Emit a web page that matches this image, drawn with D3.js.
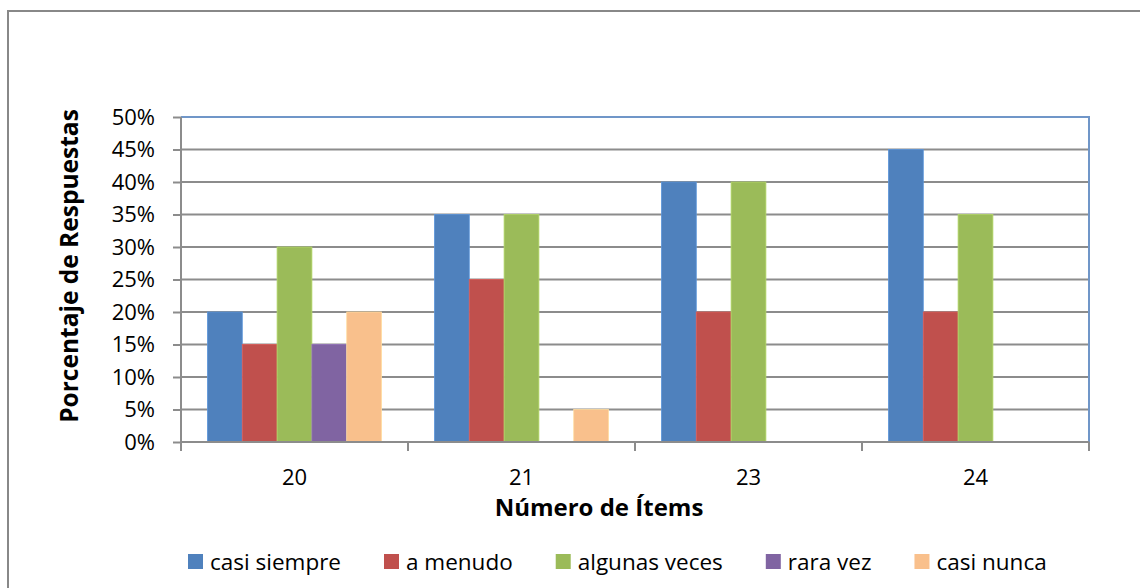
<!DOCTYPE html>
<html>
<head>
<meta charset="utf-8">
<script src="https://cdn.jsdelivr.net/npm/d3@7"></script>
<style>
  html, body { margin: 0; padding: 0; background: #fff; }
  svg { display: block; }
  text { font-family: "Open Sans", "Noto Sans", sans-serif; fill: #000; }
</style>
</head>
<body>
<svg id="chart" width="1140" height="588"></svg>
<script>
// Items (categories) on the x axis
const items = ["20", "21", "23", "24"];
// Answer options (series)
const series = ["casi siempre", "a menudo", "algunas veces", "rara vez", "casi nunca"];
// Percentage of responses per item, one array per answer option
const casiSiempre  = [20, 35, 40, 45];
const aMenudo      = [15, 25, 20, 20];
const algunasVeces = [30, 35, 40, 35];
const raraVez      = [15, 0, 0, 0];
const casiNunca    = [20, 5, 0, 0];
const yTicks = [0, 5, 10, 15, 20, 25, 30, 35, 40, 45, 50];
const colors = ["#4F81BD", "#C0504D", "#9BBB59", "#8064A2", "#F9C08C"];

const values = [casiSiempre, aMenudo, algunasVeces, raraVez, casiNunca];

const svg = d3.select("#chart");
const plot = { left: 181, right: 1089, top: 117, bottom: 442 };

// Outer chart frame
svg.append("rect")
  .attr("x", 8).attr("y", 11)
  .attr("width", 1160).attr("height", 600)
  .attr("fill", "none").attr("stroke", "#888").attr("stroke-width", 2);

const x0 = d3.scaleBand().domain(items).range([plot.left, plot.right]).padding(0);
const x1 = d3.scaleBand().domain(series).range([0, x0.bandwidth()])
  .paddingInner(0).paddingOuter(0.76);
const y = d3.scaleLinear().domain([0, 50]).range([plot.bottom, plot.top]);

// Horizontal gridlines
svg.append("g").selectAll("line").data(yTicks.slice(1, -1)).join("line")
  .attr("x1", plot.left).attr("x2", plot.right)
  .attr("y1", d => y(d)).attr("y2", d => y(d))
  .attr("stroke", "#8C8C8C").attr("stroke-width", 2);

// Top and right border of the plot area
svg.append("path")
  .attr("d", `M${plot.left},${y(50)}H${plot.right}V${plot.bottom}`)
  .attr("fill", "none").attr("stroke", "#7096C8").attr("stroke-width", 2);

// Bars
const groups = svg.append("g").selectAll("g").data(items).join("g")
  .attr("transform", d => `translate(${x0(d)},0)`);
groups.selectAll("rect")
  .data((d, i) => series.map((s, j) => ({ s, j, v: values[j][i] })))
  .join("rect")
  .filter(d => d.v > 0)
  .attr("x", d => x1(d.s))
  .attr("width", x1.bandwidth())
  .attr("y", d => y(d.v))
  .attr("height", d => y(0) - y(d.v))
  .attr("fill", d => colors[d.j])
  .attr("stroke", d => d3.color(colors[d.j]).brighter(0.4))
  .attr("stroke-width", 0.8);

// Y axis
const yAxis = svg.append("g")
  .attr("transform", `translate(${plot.left},0)`)
  .call(d3.axisLeft(y).tickValues(yTicks).tickSize(8).tickPadding(18)
    .tickFormat(d => d + "%"));
yAxis.select(".domain").attr("stroke", "#8C8C8C").attr("stroke-width", 2)
  .attr("d", `M0,${plot.top}V${plot.bottom}`);
yAxis.selectAll(".tick line").attr("stroke", "#8C8C8C").attr("stroke-width", 2);
yAxis.selectAll(".tick text").attr("font-size", 22)
  .style("font-family", '"Open Sans", sans-serif').attr("fill", "#000");

// X axis with ticks at category boundaries
const xAxis = svg.append("g").attr("transform", `translate(0,${plot.bottom})`);
xAxis.append("line").attr("x1", plot.left).attr("x2", plot.right)
  .attr("stroke", "#8C8C8C").attr("stroke-width", 2);
const bounds = items.map(d => x0(d)).concat([plot.right]);
xAxis.selectAll("line.tk").data(bounds).join("line").attr("class", "tk")
  .attr("x1", d => d).attr("x2", d => d).attr("y1", 0).attr("y2", 9)
  .attr("stroke", "#8C8C8C").attr("stroke-width", 2);
xAxis.selectAll("text").data(items).join("text")
  .attr("x", d => x0(d) + x0.bandwidth() / 2)
  .attr("y", 43)
  .attr("text-anchor", "middle")
  .attr("font-size", 22)
  .text(d => d);

// Axis titles
svg.append("text")
  .attr("transform", "translate(78,266) rotate(-90)")
  .attr("text-anchor", "middle")
  .attr("font-size", 24.5).attr("font-weight", "bold")
  .text("Porcentaje de Respuestas");
svg.append("text")
  .attr("x", 599).attr("y", 516)
  .attr("text-anchor", "middle")
  .attr("font-size", 24).attr("font-weight", "bold")
  .text("Número de Ítems");

// Legend
const legend = svg.append("g");
let lx = 188;
series.forEach((s, j) => {
  legend.append("rect").attr("x", lx).attr("y", 554)
    .attr("width", 15).attr("height", 15).attr("fill", colors[j]);
  const t = legend.append("text").attr("x", lx + 22).attr("y", 570)
    .attr("font-size", 22.5).text(s);
  lx += 22 + t.node().getComputedTextLength() + 43;
});
</script>
</body>
</html>
